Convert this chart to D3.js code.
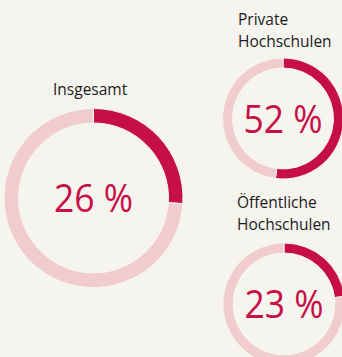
<!DOCTYPE html>
<html>
<head>
<meta charset="utf-8">
<script src="https://cdn.jsdelivr.net/npm/d3@7"></script>
<style>
  html, body { margin: 0; padding: 0; background: #f6f4ef; }
  svg { display: block; }
</style>
</head>
<body>
<svg id="chart" width="342" height="357"></svg>
<script>
// Share of each group, in percent
const groups = ["Insgesamt", "Private Hochschulen", "Öffentliche Hochschulen"];
const labelLines = [["Insgesamt"], ["Private", "Hochschulen"], ["Öffentliche", "Hochschulen"]];
const shares = [26, 52, 23];

const layout = [
  { cx: 93.5, cy: 198, r: 89.5, w: 14.5, lx: 53, ly: 95 },
  { cx: 283, cy: 118.5, r: 60.5, w: 10, lx: 238, ly: 25 },
  { cx: 284, cy: 304, r: 61, w: 10, lx: 237, ly: 208 }
];

const colorShare = "#c70f47";
const colorRest = "#f0cccd";
const colorBg = "#f6f4ef";
const font = "'Open Sans', 'Noto Sans', sans-serif";

const svg = d3.select("#chart");
svg.append("rect").attr("width", 342).attr("height", 357).attr("fill", colorBg);

const pie = d3.pie().sort(null).value(d => d.v);

groups.forEach((g, i) => {
  const L = layout[i];
  const data = [{ k: "share", v: shares[i] }, { k: "rest", v: 100 - shares[i] }];
  const arc = d3.arc().innerRadius(L.r - L.w).outerRadius(L.r);
  const grp = svg.append("g").attr("transform", `translate(${L.cx},${L.cy})`);
  grp.selectAll("path")
    .data(pie(data))
    .join("path")
    .attr("d", arc)
    .attr("fill", d => d.data.k === "share" ? colorShare : colorRest)
    .attr("stroke", colorBg)
    .attr("stroke-width", 1);

  grp.append("text")
    .attr("text-anchor", "middle")
    .attr("y", 14)
    .attr("font-family", font)
    .attr("font-size", 38)
    .attr("fill", colorShare)
    .attr("textLength", 79)
    .attr("lengthAdjust", "spacingAndGlyphs")
    .text(shares[i] + " %");

  const t = svg.append("text")
    .attr("font-family", font)
    .attr("font-size", 15.5)
    .attr("fill", "#1b1b1b");
  labelLines[i].forEach((line, j) => {
    t.append("tspan").attr("x", L.lx).attr("y", L.ly + j * 22).text(line);
  });
});
</script>
</body>
</html>
